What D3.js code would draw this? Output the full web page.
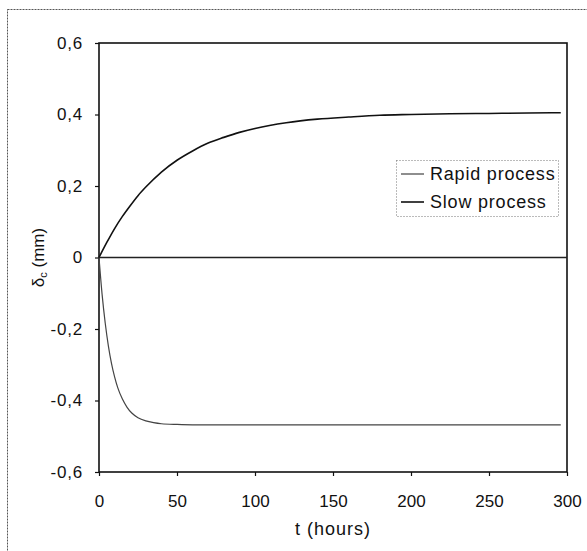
<!DOCTYPE html>
<html><head><meta charset="utf-8">
<script src="https://cdn.jsdelivr.net/npm/d3@7"></script>
<style>body{margin:0;background:#fff}svg{display:block}text{font-family:"Liberation Sans",Arial,sans-serif;fill:#111}</style>
</head><body>
<svg id="c" width="587" height="551"></svg>
<script>
const tSlow = [0,5,10,15,20,25,30,40,50,60,70,80,90,100,120,140,160,180,200,225,250,275,296];
const slowValues = [0,0.042,0.081,0.115,0.145,0.173,0.197,0.239,0.272,0.298,0.320,0.336,0.350,0.361,0.377,0.387,0.393,0.398,0.400,0.402,0.403,0.404,0.405];
const tRapid = [0,2,4,6,8,10,12,15,18,21,25,30,35,40,50,60,80,100,150,200,250,296];
const rapidValues = [0,-0.104,-0.184,-0.247,-0.296,-0.334,-0.364,-0.396,-0.419,-0.435,-0.448,-0.457,-0.462,-0.465,-0.467,-0.468,-0.468,-0.468,-0.468,-0.468,-0.468,-0.468];
const xTicks = [0,50,100,150,200,250,300];
const yTicks = [-0.6,-0.4,-0.2,0,0.2,0.4,0.6];
const seriesNames = ["Rapid process","Slow process"];

const svg = d3.select("#c");
const L=99,R=567,T=43,B=472;
const x = d3.scaleLinear().domain([0,300]).range([L,R]);
const y = d3.scaleLinear().domain([-0.6,0.6]).range([B,T]);
const fmt = v => v===0 ? "0" : (v<0?"-":"") + d3.format(".1f")(Math.abs(v)).replace(".",",");

// outer dotted frame
svg.append("rect").attr("x",7.5).attr("y",9.5).attr("width",620).attr("height",600)
  .attr("fill","none").attr("stroke","#555").attr("stroke-width",1).attr("stroke-dasharray","2,1");

// plot box
svg.append("rect").attr("x",L).attr("y",T).attr("width",R-L).attr("height",B-T)
  .attr("fill","none").attr("stroke","#111").attr("stroke-width",1.6);

// zero line
svg.append("line").attr("x1",L).attr("x2",R).attr("y1",y(0)).attr("y2",y(0))
  .attr("stroke","#222").attr("stroke-width",1.6);

const xa = svg.append("g").attr("transform",`translate(0,${B})`)
  .call(d3.axisBottom(x).tickValues(xTicks).tickSize(4).tickPadding(19).tickFormat(d3.format("d")));
xa.select(".domain").remove();
xa.selectAll("line").attr("stroke","#111").attr("stroke-width",1.2);
xa.selectAll("text").attr("font-size",17).attr("fill","#111");

const ya = svg.append("g").attr("transform",`translate(${L},0)`)
  .call(d3.axisLeft(y).tickValues(yTicks).tickSize(4).tickPadding(12).tickFormat(fmt));
ya.select(".domain").remove();
ya.selectAll("line").attr("stroke","#111").attr("stroke-width",1.2);
ya.selectAll("text").attr("font-size",17).attr("fill","#111").attr("letter-spacing",0.8);

svg.append("text").attr("x",(L+R)/2).attr("y",535).attr("text-anchor","middle").attr("font-size",18).attr("letter-spacing",1).text("t (hours)");
const yl = svg.append("text").attr("transform",`translate(44,${y(0)}) rotate(-90)`).attr("text-anchor","middle").attr("font-size",17);
yl.append("tspan").text("δ");
yl.append("tspan").attr("font-size",11).attr("dy",3).text("c");
yl.append("tspan").attr("dy",-3).text(" (mm)");

const line = d3.line().x(d=>x(d[0])).y(d=>y(d[1])).curve(d3.curveMonotoneX);
svg.append("path").datum(d3.zip(tRapid,rapidValues)).attr("d",line)
  .attr("fill","none").attr("stroke","#444").attr("stroke-width",1.2);
svg.append("path").datum(d3.zip(tSlow,slowValues)).attr("d",line)
  .attr("fill","none").attr("stroke","#111").attr("stroke-width",1.6);

// legend
const lg = svg.append("g");
lg.append("rect").attr("x",396.5).attr("y",160.5).attr("width",162).attr("height",56)
  .attr("fill","#fff").attr("stroke","#777").attr("stroke-width",1).attr("stroke-dasharray","1,2");
const lc = ["#444","#111"], lw=[1.2,1.6];
seriesNames.forEach((n,i)=>{
  const yy = 174 + i*28;
  lg.append("line").attr("x1",401).attr("x2",424).attr("y1",yy).attr("y2",yy).attr("stroke",lc[i]).attr("stroke-width",lw[i]);
  lg.append("text").attr("x",430).attr("y",yy+6).attr("font-size",18).attr("letter-spacing",0.8).text(n);
});
</script>
</body></html>
